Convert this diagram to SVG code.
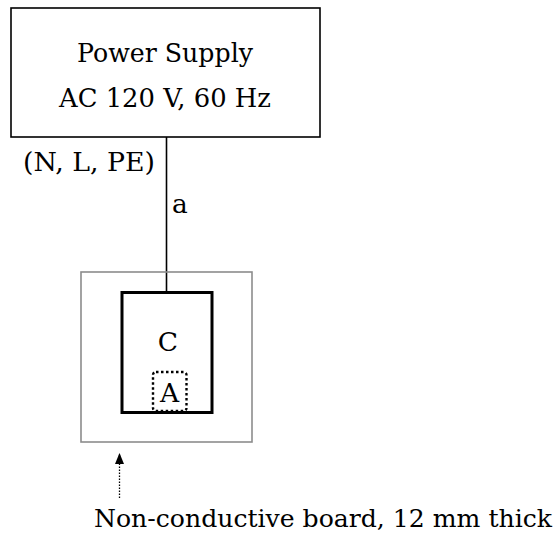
<svg xmlns="http://www.w3.org/2000/svg" width="559" height="537" viewBox="0 0 559 537">
<style>
text{font-family:"DejaVu Serif","Liberation Serif","Times New Roman",serif;font-size:26.5px;fill:#000}
.c{text-anchor:middle}
</style>
<defs>
<marker id="ah" markerWidth="11" markerHeight="9" refX="10" refY="4.5" orient="auto" markerUnits="userSpaceOnUse" viewBox="0 0 11 9">
<path d="M0,0 L11,4.5 L0,9 Z" fill="#000"/>
</marker>
</defs>
<rect width="559" height="537" fill="#fff"/>
<g id="connectors">
<line x1="166.5" y1="137" x2="166.5" y2="292" stroke="#000" stroke-width="1.6"/>
<line x1="119.5" y1="498" x2="119.5" y2="454" stroke="#000" stroke-width="1.3" stroke-dasharray="1.5,1.5" marker-end="url(#ah)"/>
</g>
<g id="power">
<rect x="11" y="8" width="309" height="129" fill="none" stroke="#000" stroke-width="1.6"/>
<text class="c" x="165" y="62" textLength="176" lengthAdjust="spacingAndGlyphs">Power Supply</text>
<text class="c" x="165" y="107" textLength="212" lengthAdjust="spacingAndGlyphs">AC 120 V, 60 Hz</text>
</g>
<text id="nlpe" x="23" y="171" textLength="132" lengthAdjust="spacingAndGlyphs">(N, L, PE)</text>
<text id="label-a" x="172" y="212.5">a</text>
<g id="board">
<rect x="81" y="272" width="171" height="170" fill="none" stroke="#8c8c8c" stroke-width="1.6"/>
</g>
<g id="C">
<rect x="122" y="292.5" width="90" height="120" fill="none" stroke="#000" stroke-width="3"/>
<text class="c" x="168" y="351">C</text>
</g>
<g id="A">
<rect x="153" y="372" width="33.5" height="39" rx="3" fill="none" stroke="#000" stroke-width="2.4" stroke-dasharray="2.5,2.5"/>
<text class="c" x="169.5" y="401.5">A</text>
</g>
<text id="board-label" x="94" y="527" style="font-size:24.5px" textLength="458" lengthAdjust="spacingAndGlyphs">Non-conductive board, 12 mm thick</text>
</svg>
